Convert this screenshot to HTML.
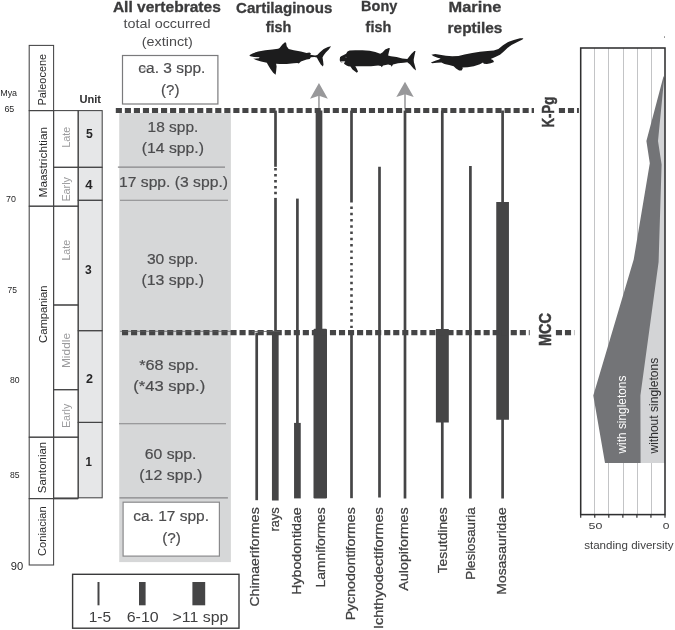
<!DOCTYPE html>
<html lang="en"><head><meta charset="utf-8"><title>Vertebrate diversity figure</title>
<style>html,body{margin:0;padding:0;background:#fff}svg{display:block}text{white-space:pre}</style>
</head><body>
<svg width="675" height="630" viewBox="0 0 675 630" font-family="'Liberation Sans', sans-serif">
<rect width="675" height="630" fill="#fff"/>
<rect x="119.20" y="113.00" width="111.70" height="449.10" fill="#d6d7d8" stroke="none" stroke-width="1"/>
<rect x="78.20" y="110.60" width="24.00" height="387.20" fill="#e6e7e8" stroke="none" stroke-width="1"/>
<rect x="29.20" y="45.40" width="24.40" height="65.20" fill="none" stroke="#444445" stroke-width="1.05"/>
<rect x="29.20" y="110.60" width="24.40" height="95.60" fill="none" stroke="#444445" stroke-width="1.05"/>
<rect x="29.20" y="206.20" width="24.40" height="231.00" fill="none" stroke="#444445" stroke-width="1.05"/>
<rect x="29.20" y="437.20" width="24.40" height="61.40" fill="none" stroke="#444445" stroke-width="1.05"/>
<rect x="29.20" y="498.60" width="24.40" height="66.40" fill="none" stroke="#444445" stroke-width="1.05"/>
<rect x="53.60" y="110.60" width="24.60" height="56.70" fill="none" stroke="#444445" stroke-width="1.05"/>
<rect x="53.60" y="167.30" width="24.60" height="38.90" fill="none" stroke="#444445" stroke-width="1.05"/>
<rect x="53.60" y="206.20" width="24.60" height="98.80" fill="none" stroke="#444445" stroke-width="1.05"/>
<rect x="53.60" y="305.00" width="24.60" height="84.70" fill="none" stroke="#444445" stroke-width="1.05"/>
<rect x="53.60" y="389.70" width="24.60" height="47.50" fill="none" stroke="#444445" stroke-width="1.05"/>
<rect x="53.60" y="437.20" width="24.60" height="61.00" fill="none" stroke="#444445" stroke-width="1.05"/>
<rect x="78.20" y="110.60" width="24.00" height="56.70" fill="none" stroke="#444445" stroke-width="1.05"/>
<rect x="78.20" y="167.30" width="24.00" height="33.00" fill="none" stroke="#444445" stroke-width="1.05"/>
<rect x="78.20" y="200.30" width="24.00" height="130.40" fill="none" stroke="#444445" stroke-width="1.05"/>
<rect x="78.20" y="330.70" width="24.00" height="91.70" fill="none" stroke="#444445" stroke-width="1.05"/>
<rect x="78.20" y="422.40" width="24.00" height="75.40" fill="none" stroke="#444445" stroke-width="1.05"/>
<line x1="53.60" y1="498.50" x2="78.20" y2="498.50" stroke="#444445" stroke-width="1.7"/>
<text transform="translate(46.3,105.5) rotate(-90)" font-size="11.3" fill="#2a2a2b" font-weight="normal" textLength="51.6" lengthAdjust="spacingAndGlyphs">Paleocene</text>
<text transform="translate(46.6,197.5) rotate(-90)" font-size="11.3" fill="#2a2a2b" font-weight="normal" textLength="70.7" lengthAdjust="spacingAndGlyphs">Maastrichtian</text>
<text transform="translate(46.6,343.0) rotate(-90)" font-size="11.3" fill="#2a2a2b" font-weight="normal" textLength="57.6" lengthAdjust="spacingAndGlyphs">Campanian</text>
<text transform="translate(45.9,493.2) rotate(-90)" font-size="11.3" fill="#2a2a2b" font-weight="normal" textLength="51.3" lengthAdjust="spacingAndGlyphs">Santonian</text>
<text transform="translate(45.9,556.0) rotate(-90)" font-size="11.3" fill="#2a2a2b" font-weight="normal" textLength="49.8" lengthAdjust="spacingAndGlyphs">Coniacian</text>
<text transform="translate(69.8,147.8) rotate(-90)" font-size="10.5" fill="#9a9a9c" font-weight="normal" textLength="21.0" lengthAdjust="spacingAndGlyphs">Late</text>
<text transform="translate(69.8,201.6) rotate(-90)" font-size="10.5" fill="#9a9a9c" font-weight="normal" textLength="24.6" lengthAdjust="spacingAndGlyphs">Early</text>
<text transform="translate(69.8,260.6) rotate(-90)" font-size="10.5" fill="#9a9a9c" font-weight="normal" textLength="20.8" lengthAdjust="spacingAndGlyphs">Late</text>
<text transform="translate(69.8,368.1) rotate(-90)" font-size="10.5" fill="#9a9a9c" font-weight="normal" textLength="35.2" lengthAdjust="spacingAndGlyphs">Middle</text>
<text transform="translate(69.8,428.1) rotate(-90)" font-size="10.5" fill="#9a9a9c" font-weight="normal" textLength="24.4" lengthAdjust="spacingAndGlyphs">Early</text>
<text x="79.4" y="102.7" font-size="10.8" fill="#2e2e2f" font-weight="bold" textLength="21.6" lengthAdjust="spacingAndGlyphs">Unit</text>
<text x="86.1" y="138.2" font-size="13" fill="#262627" font-weight="bold" textLength="6.8" lengthAdjust="spacingAndGlyphs">5</text>
<text x="85.2" y="189.3" font-size="13" fill="#262627" font-weight="bold" textLength="7.3" lengthAdjust="spacingAndGlyphs">4</text>
<text x="85.0" y="273.7" font-size="13" fill="#262627" font-weight="bold" textLength="6.7" lengthAdjust="spacingAndGlyphs">3</text>
<text x="85.9" y="382.7" font-size="13" fill="#262627" font-weight="bold" textLength="7.0" lengthAdjust="spacingAndGlyphs">2</text>
<text x="85.6" y="465.7" font-size="13" fill="#262627" font-weight="bold" textLength="6.4" lengthAdjust="spacingAndGlyphs">1</text>
<text x="0.2" y="95.7" font-size="9" fill="#262627" font-weight="normal" textLength="16.9" lengthAdjust="spacingAndGlyphs">Mya</text>
<text x="4.4" y="112.2" font-size="9.2" fill="#262627" font-weight="normal" textLength="9.9" lengthAdjust="spacingAndGlyphs">65</text>
<text x="6.1" y="201.6" font-size="9.2" fill="#262627" font-weight="normal" textLength="9.9" lengthAdjust="spacingAndGlyphs">70</text>
<text x="7.5" y="292.5" font-size="9.2" fill="#262627" font-weight="normal" textLength="9.5" lengthAdjust="spacingAndGlyphs">75</text>
<text x="10.0" y="382.7" font-size="9.2" fill="#262627" font-weight="normal" textLength="9.6" lengthAdjust="spacingAndGlyphs">80</text>
<text x="10.0" y="477.5" font-size="9.2" fill="#262627" font-weight="normal" textLength="9.6" lengthAdjust="spacingAndGlyphs">85</text>
<text x="10.8" y="570.3" font-size="11" fill="#262627" font-weight="normal" textLength="12.4" lengthAdjust="spacingAndGlyphs">90</text>
<text x="112.9" y="11.8" font-size="14.6" fill="#3b3b3c" font-weight="bold" textLength="107.9" lengthAdjust="spacingAndGlyphs" stroke="#3b3b3c" stroke-width="0.3">All vertebrates</text>
<text x="123.5" y="27.6" font-size="13.6" fill="#4c4c4e" font-weight="normal" textLength="87.1" lengthAdjust="spacingAndGlyphs">total occurred</text>
<text x="141.8" y="46.2" font-size="13.6" fill="#4c4c4e" font-weight="normal" textLength="51.1" lengthAdjust="spacingAndGlyphs">(extinct)</text>
<rect x="122.50" y="55.50" width="95.40" height="48.50" fill="#fff" stroke="#7a7a7c" stroke-width="1.2"/>
<text x="138.3" y="72.8" font-size="15.3" fill="#4c4c4e" font-weight="normal" textLength="67.1" lengthAdjust="spacingAndGlyphs" stroke="#4c4c4e" stroke-width="0.2">ca. 3 spp.</text>
<text x="161.0" y="95.4" font-size="15.3" fill="#4c4c4e" font-weight="normal" textLength="18.4" lengthAdjust="spacingAndGlyphs" stroke="#4c4c4e" stroke-width="0.2">(?)</text>
<line x1="139.20" y1="68.80" x2="147.00" y2="68.80" stroke="#6a6a6c" stroke-width="0.6"/>
<text x="147.6" y="131.7" font-size="15.3" fill="#4c4c4e" font-weight="normal" textLength="50.7" lengthAdjust="spacingAndGlyphs" stroke="#4c4c4e" stroke-width="0.2">18 spp.</text>
<text x="141.7" y="152.9" font-size="15.3" fill="#4c4c4e" font-weight="normal" textLength="62.3" lengthAdjust="spacingAndGlyphs" stroke="#4c4c4e" stroke-width="0.2">(14 spp.)</text>
<text x="119.0" y="187.0" font-size="15.3" fill="#4c4c4e" font-weight="normal" textLength="109.0" lengthAdjust="spacingAndGlyphs" stroke="#4c4c4e" stroke-width="0.2">17 spp. (3 spp.)</text>
<text x="146.9" y="263.8" font-size="15.3" fill="#4c4c4e" font-weight="normal" textLength="51.2" lengthAdjust="spacingAndGlyphs" stroke="#4c4c4e" stroke-width="0.2">30 spp.</text>
<text x="141.4" y="285.2" font-size="15.3" fill="#4c4c4e" font-weight="normal" textLength="62.6" lengthAdjust="spacingAndGlyphs" stroke="#4c4c4e" stroke-width="0.2">(13 spp.)</text>
<text x="139.3" y="369.8" font-size="15.3" fill="#4c4c4e" font-weight="normal" textLength="59.5" lengthAdjust="spacingAndGlyphs" stroke="#4c4c4e" stroke-width="0.2">*68 spp.</text>
<text x="133.3" y="390.7" font-size="15.3" fill="#4c4c4e" font-weight="normal" textLength="71.9" lengthAdjust="spacingAndGlyphs" stroke="#4c4c4e" stroke-width="0.2">(*43 spp.)</text>
<text x="144.8" y="459.0" font-size="15.3" fill="#4c4c4e" font-weight="normal" textLength="51.6" lengthAdjust="spacingAndGlyphs" stroke="#4c4c4e" stroke-width="0.2">60 spp.</text>
<text x="139.3" y="480.0" font-size="15.3" fill="#4c4c4e" font-weight="normal" textLength="63.1" lengthAdjust="spacingAndGlyphs" stroke="#4c4c4e" stroke-width="0.2">(12 spp.)</text>
<rect x="123.10" y="502.20" width="96.30" height="53.90" fill="#fff" stroke="#8a8a8c" stroke-width="1.2"/>
<text x="133.2" y="520.6" font-size="15.3" fill="#4c4c4e" font-weight="normal" textLength="75.8" lengthAdjust="spacingAndGlyphs" stroke="#4c4c4e" stroke-width="0.2">ca. 17 spp.</text>
<text x="162.2" y="542.8" font-size="15.3" fill="#4c4c4e" font-weight="normal" textLength="18.7" lengthAdjust="spacingAndGlyphs" stroke="#4c4c4e" stroke-width="0.2">(?)</text>
<line x1="117.90" y1="167.10" x2="225.00" y2="167.10" stroke="#868688" stroke-width="1.1"/>
<line x1="120.00" y1="200.20" x2="228.00" y2="200.20" stroke="#868688" stroke-width="1.1"/>
<line x1="119.00" y1="423.80" x2="226.00" y2="423.80" stroke="#868688" stroke-width="1.1"/>
<line x1="119.50" y1="497.90" x2="227.90" y2="497.90" stroke="#868688" stroke-width="1.1"/>
<text x="236.0" y="13.1" font-size="15.4" fill="#3b3b3c" font-weight="bold" textLength="96.4" lengthAdjust="spacingAndGlyphs" stroke="#3b3b3c" stroke-width="0.3">Cartilaginous</text>
<text x="265.7" y="32.1" font-size="15.4" fill="#3b3b3c" font-weight="bold" textLength="25.7" lengthAdjust="spacingAndGlyphs" stroke="#3b3b3c" stroke-width="0.3">fish</text>
<text x="361.1" y="11.3" font-size="15.4" fill="#3b3b3c" font-weight="bold" textLength="36.2" lengthAdjust="spacingAndGlyphs" stroke="#3b3b3c" stroke-width="0.3">Bony</text>
<text x="365.6" y="32.0" font-size="15.4" fill="#3b3b3c" font-weight="bold" textLength="25.7" lengthAdjust="spacingAndGlyphs" stroke="#3b3b3c" stroke-width="0.3">fish</text>
<text x="448.5" y="12.4" font-size="15.4" fill="#3b3b3c" font-weight="bold" textLength="52.8" lengthAdjust="spacingAndGlyphs" stroke="#3b3b3c" stroke-width="0.3">Marine</text>
<text x="447.6" y="32.6" font-size="15.4" fill="#3b3b3c" font-weight="bold" textLength="54.8" lengthAdjust="spacingAndGlyphs" stroke="#3b3b3c" stroke-width="0.3">reptiles</text>
<path d="M249.3,55.2 L252.5,53.4 L258.2,51.4 L265.3,50.2 L272.4,49.5 L278.1,48.8 L279.6,47.9 L282.4,44.5 L285.0,42.3 L286.1,42.8 L286.7,46.2 L288.7,49.1 L293.8,50.2 L300.9,51.6 L306.6,53.1 L309.4,52.4 L310.9,53.2 L310.3,54.8 L315.1,55.6 L317.3,55.1 L319.4,52.8 L323.7,49.1 L327.9,47.1 L331.1,46.2 L328.8,49.5 L325.8,52.4 L323.7,55.2 L322.5,57.6 L323.1,60.9 L323.5,64.4 L322.9,66.4 L320.8,64.4 L318.7,60.9 L316.8,57.6 L314.4,57.1 L310.9,57.3 L309.7,59.0 L306.6,59.5 L303.7,60.5 L300.9,61.6 L298.8,63.5 L297.3,63.0 L293.8,63.3 L286.7,64.0 L279.6,63.9 L276.1,63.7 L276.6,66.6 L276.1,71.6 L275.6,74.7 L273.2,72.7 L270.3,68.7 L268.2,65.2 L266.8,62.7 L261.1,61.6 L256.1,59.9 L253.2,58.8 L258.9,58.2 L259.6,57.3 L254.0,56.9 L250.4,56.2Z" fill="#1c1c1d"/>
<path d="M340.0,57.3 L339.7,60.2 L340.8,62.3 L342.5,62.5 L344.7,61.9 L344.0,63.7 L346.1,65.2 L348.2,66.2 L350.4,66.6 L352.5,69.4 L356.8,72.7 L358.0,71.6 L356.8,68.7 L355.3,66.2 L362.4,66.2 L371.0,66.2 L378.1,65.6 L380.9,65.9 L381.7,67.2 L383.1,65.6 L388.1,64.4 L390.9,65.2 L391.6,66.7 L393.0,64.4 L398.0,63.3 L403.7,62.7 L407.3,62.3 L410.1,64.4 L413.7,68.7 L416.1,70.4 L415.1,66.6 L413.9,62.3 L413.7,59.5 L414.4,55.9 L415.5,51.1 L414.4,50.9 L411.5,53.8 L408.7,57.3 L407.3,59.0 L402.3,58.5 L396.6,57.1 L390.9,56.2 L388.1,55.6 L388.8,52.4 L389.9,48.2 L388.8,48.1 L385.2,49.5 L382.4,52.4 L380.2,53.8 L375.3,51.9 L369.6,50.7 L362.4,50.2 L355.3,50.2 L349.6,50.5 L347.5,51.6 L346.1,53.8 L343.2,55.2 L341.1,56.2Z" fill="#1c1c1d"/>
<path d="M431.4,54.7 L435.2,54.0 L439.9,54.8 L442.9,55.3 L446.0,55.7 L452.2,56.3 L458.4,56.0 L464.5,54.5 L472.2,53.0 L479.9,51.7 L487.6,51.1 L493.8,50.6 L498.4,49.1 L503.0,45.3 L507.7,42.2 L513.8,39.9 L520.0,38.3 L523.4,38.2 L522.5,39.6 L516.9,42.3 L511.5,45.1 L507.7,47.7 L503.8,51.6 L500.0,54.7 L495.3,57.0 L490.7,59.0 L493.0,60.0 L494.0,62.0 L490.7,63.3 L486.9,64.1 L483.8,63.7 L483.0,62.4 L479.9,64.2 L473.8,66.2 L467.6,67.3 L462.4,67.4 L462.8,68.5 L461.6,70.5 L459.1,70.5 L456.0,68.5 L453.7,66.2 L449.1,65.1 L444.5,63.9 L441.4,62.4 L436.8,62.8 L432.2,63.3 L430.9,62.4 L435.2,60.8 L439.1,59.6 L440.6,58.5 L437.6,57.7 L433.7,56.2Z" fill="#1c1c1d"/>
<path d="M340.5,61.6 L345.4,61.2 L343.1,62.9Z" fill="#fff"/>
<path d="M345.4,56.8 L346.8,57.1 L345.9,57.9Z" fill="#888"/>
<line x1="318.95" y1="93.00" x2="318.95" y2="109.50" stroke="#a2a2a4" stroke-width="1.7"/>
<path d="M318.95,83.00 L327.85,98.70 L318.95,95.80 L310.05,98.70Z" fill="#98989a"/>
<line x1="405.00" y1="91.85" x2="405.00" y2="109.50" stroke="#a2a2a4" stroke-width="1.7"/>
<path d="M405.00,81.85 L413.70,97.05 L405.00,94.25 L396.30,97.05Z" fill="#98989a"/>
<line x1="256.70" y1="332.65" x2="256.70" y2="500.20" stroke="#454546" stroke-width="2.7"/>
<line x1="275.50" y1="110.60" x2="275.50" y2="166.80" stroke="#454546" stroke-width="2.7"/>
<line x1="275.50" y1="168.05" x2="275.50" y2="195.00" stroke="#454546" stroke-width="2.7" stroke-dasharray="2.5 3.45"/>
<line x1="275.50" y1="197.90" x2="275.50" y2="332.65" stroke="#454546" stroke-width="2.7"/>
<line x1="275.30" y1="330.65" x2="275.30" y2="500.60" stroke="#454546" stroke-width="6.7"/>
<line x1="297.40" y1="198.60" x2="297.40" y2="423.00" stroke="#454546" stroke-width="2.7"/>
<line x1="297.40" y1="422.90" x2="297.40" y2="498.40" stroke="#454546" stroke-width="6.7"/>
<line x1="319.00" y1="110.60" x2="319.00" y2="330.00" stroke="#454546" stroke-width="6.7"/>
<rect x="313.5" y="328.8" width="13.5" height="169.6" rx="1.2" fill="#454546"/>
<line x1="351.50" y1="110.60" x2="351.50" y2="202.50" stroke="#454546" stroke-width="2.7"/>
<line x1="351.50" y1="206.50" x2="351.50" y2="328.20" stroke="#454546" stroke-width="2.6" stroke-dasharray="2.4 3.87"/>
<line x1="351.50" y1="332.65" x2="351.50" y2="498.20" stroke="#454546" stroke-width="2.7"/>
<line x1="379.50" y1="166.70" x2="379.50" y2="497.60" stroke="#454546" stroke-width="2.7"/>
<line x1="405.00" y1="110.60" x2="405.00" y2="498.50" stroke="#454546" stroke-width="2.7"/>
<line x1="442.30" y1="110.60" x2="442.30" y2="498.50" stroke="#454546" stroke-width="2.7"/>
<line x1="442.35" y1="329.00" x2="442.35" y2="422.40" stroke="#454546" stroke-width="12.9"/>
<line x1="470.40" y1="166.00" x2="470.40" y2="498.50" stroke="#454546" stroke-width="2.7"/>
<line x1="502.60" y1="110.60" x2="502.60" y2="498.50" stroke="#454546" stroke-width="2.7"/>
<line x1="502.60" y1="201.90" x2="502.60" y2="419.80" stroke="#454546" stroke-width="12.700000000000001"/>
<line x1="115.80" y1="110.60" x2="534.00" y2="110.60" stroke="#454546" stroke-width="5.0" stroke-dasharray="6.12 2.92"/>
<line x1="558.90" y1="110.60" x2="578.90" y2="110.60" stroke="#454546" stroke-width="5.0" stroke-dasharray="6.12 2.92"/>
<line x1="122.00" y1="332.65" x2="529.70" y2="332.65" stroke="#454546" stroke-width="5.2" stroke-dasharray="6.12 2.92"/>
<line x1="555.90" y1="332.65" x2="574.30" y2="332.65" stroke="#454546" stroke-width="5.2" stroke-dasharray="6.12 2.92"/>
<line x1="120.20" y1="331.30" x2="230.80" y2="331.30" stroke="#5a5a5c" stroke-width="0.8"/>
<line x1="252.00" y1="331.50" x2="280.00" y2="331.50" stroke="#5a5a5c" stroke-width="0.8"/>
<text transform="translate(554.4,127.6) rotate(-90)" font-size="17" fill="#3b3b3c" font-weight="bold" textLength="30.9" lengthAdjust="spacingAndGlyphs" stroke="#3b3b3c" stroke-width="0.45">K-Pg</text>
<text transform="translate(551.2,346.0) rotate(-90)" font-size="16.0" fill="#3b3b3c" font-weight="bold" textLength="33.1" lengthAdjust="spacingAndGlyphs" stroke="#3b3b3c" stroke-width="0.5">MCC</text>
<text transform="translate(259.3,606.6) rotate(-90)" font-size="13.6" fill="#404041" font-weight="normal" textLength="99.3" lengthAdjust="spacingAndGlyphs" stroke="#404041" stroke-width="0.25">Chimaeriformes</text>
<text transform="translate(278.8,531.4) rotate(-90)" font-size="13.6" fill="#404041" font-weight="normal" textLength="24.1" lengthAdjust="spacingAndGlyphs" stroke="#404041" stroke-width="0.25">rays</text>
<text transform="translate(301.0,594.7) rotate(-90)" font-size="13.6" fill="#404041" font-weight="normal" textLength="87.4" lengthAdjust="spacingAndGlyphs" stroke="#404041" stroke-width="0.25">Hybodontidae</text>
<text transform="translate(325.2,587.6) rotate(-90)" font-size="13.6" fill="#404041" font-weight="normal" textLength="80.3" lengthAdjust="spacingAndGlyphs" stroke="#404041" stroke-width="0.25">Lamniformes</text>
<text transform="translate(354.5,620.3) rotate(-90)" font-size="13.6" fill="#404041" font-weight="normal" textLength="113.0" lengthAdjust="spacingAndGlyphs" stroke="#404041" stroke-width="0.25">Pycnodontiformes</text>
<text transform="translate(382.6,629.0) rotate(-90)" font-size="13.6" fill="#404041" font-weight="normal" textLength="121.7" lengthAdjust="spacingAndGlyphs" stroke="#404041" stroke-width="0.25">Ichthyodectiformes</text>
<text transform="translate(407.8,590.7) rotate(-90)" font-size="13.6" fill="#404041" font-weight="normal" textLength="83.4" lengthAdjust="spacingAndGlyphs" stroke="#404041" stroke-width="0.25">Aulopiformes</text>
<text transform="translate(447.1,573.3) rotate(-90)" font-size="13.6" fill="#404041" font-weight="normal" textLength="66.0" lengthAdjust="spacingAndGlyphs" stroke="#404041" stroke-width="0.25">Tesutdines</text>
<text transform="translate(475.2,579.7) rotate(-90)" font-size="13.6" fill="#404041" font-weight="normal" textLength="72.4" lengthAdjust="spacingAndGlyphs" stroke="#404041" stroke-width="0.25">Plesiosauria</text>
<text transform="translate(505.7,594.7) rotate(-90)" font-size="13.6" fill="#404041" font-weight="normal" textLength="87.4" lengthAdjust="spacingAndGlyphs" stroke="#404041" stroke-width="0.25">Mosasauridae</text>
<rect x="72.60" y="574.30" width="166.40" height="53.90" fill="#fff" stroke="#3a3a3b" stroke-width="1.4"/>
<line x1="98.50" y1="582.00" x2="98.50" y2="605.30" stroke="#454546" stroke-width="2.0"/>
<rect x="139.00" y="582.00" width="6.60" height="23.30" fill="#454546" stroke="none" stroke-width="1"/>
<rect x="192.40" y="582.00" width="12.80" height="23.30" fill="#454546" stroke="none" stroke-width="1"/>
<text x="88.7" y="621.6" font-size="14" fill="#404041" font-weight="normal" textLength="22.3" lengthAdjust="spacingAndGlyphs">1-5</text>
<text x="126.7" y="621.6" font-size="14" fill="#404041" font-weight="normal" textLength="32.0" lengthAdjust="spacingAndGlyphs">6-10</text>
<text x="172.6" y="621.6" font-size="14" fill="#404041" font-weight="normal" textLength="55.7" lengthAdjust="spacingAndGlyphs">&gt;11 spp</text>
<line x1="594.50" y1="48.00" x2="594.50" y2="514.60" stroke="#c3c4c6" stroke-width="1"/>
<line x1="608.50" y1="48.00" x2="608.50" y2="514.60" stroke="#c3c4c6" stroke-width="1"/>
<line x1="623.50" y1="48.00" x2="623.50" y2="514.60" stroke="#c3c4c6" stroke-width="1"/>
<line x1="637.50" y1="48.00" x2="637.50" y2="514.60" stroke="#c3c4c6" stroke-width="1"/>
<line x1="651.50" y1="48.00" x2="651.50" y2="514.60" stroke="#c3c4c6" stroke-width="1"/>
<polygon points="663.6,75.9 646.4,141.0 649.8,163.2 633.7,259.5 593.3,395.5 605.0,462.9 665.0,462.9 665.0,80.0" fill="#737477"/>
<polygon points="664.3,77.0 658.0,141.0 661.6,164.6 658.6,262.0 640.4,395.5 640.6,462.9 665.0,462.9 665.0,80.0" fill="#d3d4d6"/>
<rect x="580.70" y="48.00" width="84.30" height="466.60" fill="none" stroke="#2f2f30" stroke-width="1.55"/>
<line x1="580.70" y1="514.60" x2="580.70" y2="517.70" stroke="#2f2f30" stroke-width="1.2"/>
<line x1="594.75" y1="514.60" x2="594.75" y2="517.70" stroke="#2f2f30" stroke-width="1.2"/>
<line x1="608.80" y1="514.60" x2="608.80" y2="517.70" stroke="#2f2f30" stroke-width="1.2"/>
<line x1="622.85" y1="514.60" x2="622.85" y2="517.70" stroke="#2f2f30" stroke-width="1.2"/>
<line x1="636.90" y1="514.60" x2="636.90" y2="517.70" stroke="#2f2f30" stroke-width="1.2"/>
<line x1="650.95" y1="514.60" x2="650.95" y2="517.70" stroke="#2f2f30" stroke-width="1.2"/>
<line x1="665.00" y1="514.60" x2="665.00" y2="517.70" stroke="#2f2f30" stroke-width="1.2"/>
<text transform="translate(626.3,453.5) rotate(-90)" font-size="12.1" fill="#ffffff" font-weight="normal" textLength="77.9" lengthAdjust="spacingAndGlyphs">with singletons</text>
<text transform="translate(658.1,453.5) rotate(-90)" font-size="12.1" fill="#2e2e2f" font-weight="normal" textLength="95.7" lengthAdjust="spacingAndGlyphs">without singletons</text>
<text x="588.6" y="528.5" font-size="8.5" fill="#3b3b3c" font-weight="normal" textLength="13.8" lengthAdjust="spacingAndGlyphs">50</text>
<text x="662.7" y="528.5" font-size="8.5" fill="#3b3b3c" font-weight="normal" textLength="6.7" lengthAdjust="spacingAndGlyphs">0</text>
<text x="584.2" y="548.9" font-size="11.4" fill="#404041" font-weight="normal" textLength="89.4" lengthAdjust="spacingAndGlyphs">standing diversity</text>
<rect x="664.00" y="36.50" width="1.00" height="1.10" fill="#555" stroke="none" stroke-width="1"/>
</svg>
</body></html>
